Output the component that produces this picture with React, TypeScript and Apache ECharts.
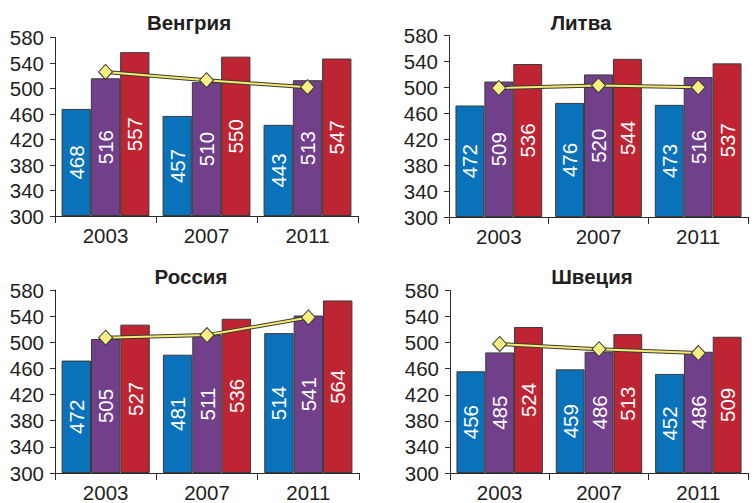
import React, { useEffect, useRef } from 'react';
import * as echarts from 'echarts';

// ---- data ----
const BASE = 300;
const years = ['2003', '2007', '2011'];
const yTickLabels = ['300', '340', '380', '420', '460', '500', '540', '580'];
const countries = ['Венгрия', 'Литва', 'Россия', 'Швеция'];

const hungaryBlue = [468, 457, 443];
const hungaryPurple = [516, 510, 513];
const hungaryRed = [557, 550, 547];
const hungaryLine = [526, 513, 502];

const lithuaniaBlue = [472, 476, 473];
const lithuaniaPurple = [509, 520, 516];
const lithuaniaRed = [536, 544, 537];
const lithuaniaLine = [499, 503, 500];

const russiaBlue = [472, 481, 514];
const russiaPurple = [505, 511, 541];
const russiaRed = [527, 536, 564];
const russiaLine = [507, 511, 538];

const swedenBlue = [456, 459, 452];
const swedenPurple = [485, 486, 486];
const swedenRed = [524, 513, 509];
const swedenLine = [498, 490, 484];

const panels = [
  { bars: [hungaryBlue, hungaryPurple, hungaryRed], line: hungaryLine },
  { bars: [lithuaniaBlue, lithuaniaPurple, lithuaniaRed], line: lithuaniaLine },
  { bars: [russiaBlue, russiaPurple, russiaRed], line: russiaLine },
  { bars: [swedenBlue, swedenPurple, swedenRed], line: swedenLine },
];

// ---- layout / style ----
const grids = [
  { left: 55, top: 37.5, width: 303, height: 178.5 },
  { left: 449, top: 35.5, width: 299, height: 181.5 },
  { left: 55, top: 290, width: 304, height: 183 },
  { left: 450, top: 290.5, width: 298, height: 182.5 },
];
const titlePos = [
  { x: 189, y: 22 },
  { x: 581, y: 22 },
  { x: 191, y: 276 },
  { x: 592, y: 276 },
];
const barColors = ['#0a72ba', '#72408a', '#be2432'];
const FONT = '"Liberation Sans", Arial, sans-serif';
const DARK = '#2b2b2b';
const FS = 20.5;

export default function App() {
  const ref = useRef<HTMLDivElement>(null);
  useEffect(() => {
    if (!ref.current) return;
    const chart = echarts.init(ref.current, undefined, { renderer: 'svg' });
    const xAxis: any[] = [];
    const yAxis: any[] = [];
    const series: any[] = [];
    panels.forEach((p, i) => {
      xAxis.push({
        type: 'category',
        gridIndex: i,
        data: years,
        axisLine: { show: true, lineStyle: { color: DARK, width: 1 } },
        axisTick: { show: true, length: 7, lineStyle: { color: DARK, width: 1 } },
        axisLabel: { fontSize: FS, color: '#231f20', fontFamily: FONT, margin: 9 },
        splitLine: { show: false },
      });
      yAxis.push({
        type: 'value',
        gridIndex: i,
        min: 0,
        max: 280,
        interval: 40,
        axisLine: { show: true, lineStyle: { color: DARK, width: 1 } },
        axisTick: { show: true, length: 5, lineStyle: { color: DARK, width: 1 } },
        axisLabel: {
          fontSize: FS,
          color: '#231f20',
          fontFamily: FONT,
          margin: 11,
          formatter: (_v: number, idx: number) => yTickLabels[idx],
        },
        splitLine: { show: false },
      });
      p.bars.forEach((arr, k) => {
        series.push({
          type: 'bar',
          xAxisIndex: i,
          yAxisIndex: i,
          data: arr.map((v) => v - BASE),
          barGap: '0%',
          barCategoryGap: '13%',
          itemStyle: { color: barColors[k], borderColor: '#3a3a3a', borderWidth: 1 },
          label: {
            show: true,
            position: 'inside',
            rotate: 90,
            color: '#ffffff',
            fontSize: FS,
            fontFamily: FONT,
            formatter: (q: any) => String(q.value + BASE),
          },
          z: 2,
        });
      });
      series.push({
        type: 'line',
        xAxisIndex: i,
        yAxisIndex: i,
        data: p.line.map((v) => v - BASE),
        symbol: 'none',
        lineStyle: { color: '#3a3a3a', width: 4 },
        z: 3,
        silent: true,
      });
      series.push({
        type: 'line',
        xAxisIndex: i,
        yAxisIndex: i,
        data: p.line.map((v) => v - BASE),
        symbol: 'diamond',
        symbolSize: [14, 15],
        lineStyle: { color: '#f4ea6c', width: 2 },
        itemStyle: { color: '#f7ef80', borderColor: '#3a3a3a', borderWidth: 1 },
        z: 4,
      });
    });
    chart.setOption({
      animation: false,
      backgroundColor: '#ffffff',
      grid: grids.map((g) => ({ ...g, containLabel: false })),
      xAxis,
      yAxis,
      series,
      graphic: countries.map((c, i) => ({
        type: 'text',
        x: titlePos[i].x,
        y: titlePos[i].y,
        style: {
          text: c,
          fontSize: 20.5,
          fontWeight: 'bold',
          fontFamily: FONT,
          fill: '#231f20',
          textAlign: 'center',
          textVerticalAlign: 'middle',
        },
      })),
    });
    return () => chart.dispose();
  }, []);
  return (
    <div
      ref={ref}
      style={{ position: 'fixed', left: 0, top: 0, width: 755, height: 503 }}
    />
  );
}
